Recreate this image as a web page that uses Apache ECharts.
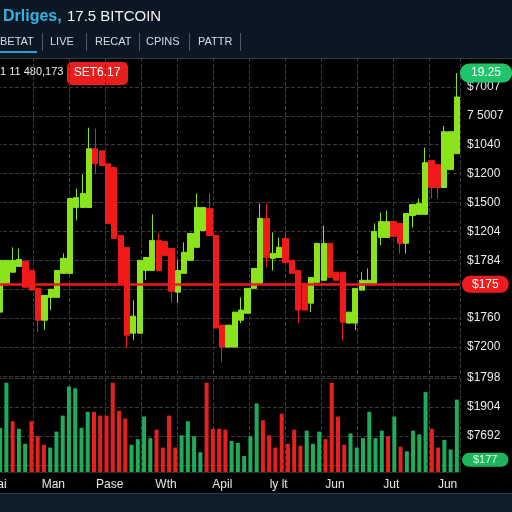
<!DOCTYPE html>
<html>
<head>
<meta charset="utf-8">
<script src="https://cdn.jsdelivr.net/npm/echarts@6/dist/echarts.min.js"></script>
<style>
  html, body { margin: 0; padding: 0; background: #000; }
  #chart { width: 512px; height: 512px; }
</style>
</head>
<body>
<div id="chart"></div>
<script>
// candles: [open, close, low, high]
var candles = [
  [221, 400, 221, 400], [321, 400, 321, 400], [359, 400, 359, 445], [379, 403, 379, 441],
  [397, 307, 307, 400], [365, 297, 297, 365], [303, 193, 152, 303], [193, 279, 159, 279],
  [272, 300, 228, 300], [272, 365, 272, 365], [355, 407, 355, 424], [355, 614, 355, 614],
  [583, 617, 538, 648], [583, 631, 583, 697], [583, 786, 583, 859], [786, 734, 700, 855],
  [779, 728, 728, 779], [734, 528, 528, 734], [721, 476, 476, 721], [486, 321, 321, 486],
  [445, 141, 97, 445], [148, 207, 124, 262], [148, 400, 148, 400], [365, 410, 331, 410],
  [365, 469, 365, 559], [469, 365, 365, 493], [465, 417, 417, 465], [441, 293, 255, 441],
  [290, 365, 252, 400], [355, 428, 355, 462], [400, 493, 400, 493], [445, 583, 445, 631],
  [503, 583, 503, 583], [579, 486, 486, 631], [486, 166, 166, 486], [176, 100, 48, 176],
  [100, 176, 100, 176], [100, 221, 100, 221], [193, 228, 183, 272], [217, 303, 217, 303],
  [303, 372, 303, 372], [321, 545, 321, 597], [545, 410, 376, 597], [407, 424, 365, 497],
  [410, 445, 410, 479], [476, 393, 393, 497], [400, 355, 355, 400], [365, 228, 183, 365],
  [321, 228, 228, 321], [252, 341, 221, 341], [324, 459, 324, 459], [331, 459, 331, 521],
  [459, 341, 341, 459], [359, 331, 331, 359], [359, 186, 124, 359], [183, 221, 183, 221],
  [183, 303, 159, 303], [297, 331, 297, 359], [321, 331, 321, 372], [321, 500, 321, 528],
  [479, 534, 452, 565], [479, 534, 479, 572], [534, 483, 483, 534], [528, 459, 424, 528],
  [459, 562, 424, 562], [555, 593, 514, 593], [559, 597, 559, 614], [559, 738, 559, 790],
  [745, 652, 614, 745], [731, 652, 614, 731], [652, 845, 652, 865], [714, 845, 714, 845],
  [769, 965, 769, 1048]
];

var volumes = [
  47,
  95, 54, 46, 30, 54, 38, 29, 26, 43, 60, 91, 89, 47, 64, 64, 60, 60, 95, 65, 57,
  29, 35, 59, 36, 45, 26, 60, 26, 39, 54, 38, 21, 95, 46, 46, 45, 33, 31, 17, 38,
  73, 55, 39, 26, 62, 30, 45, 28, 44, 30, 43, 35, 95, 59, 29, 41, 26, 36, 64, 36,
  44, 38, 59, 27, 22, 44, 40, 85, 46, 26, 34, 24, 77
];
// 1 = up (green), 0 = down (red)
var volumeUp = [
  1,
  1, 0, 1, 1, 0, 0, 0, 1, 1, 1, 1, 1, 1, 1, 0, 0, 0, 0, 0, 0,
  1, 1, 1, 1, 0, 0, 0, 0, 1, 1, 1, 1, 0, 0, 0, 0, 1, 1, 1, 1,
  1, 0, 0, 0, 0, 0, 0, 0, 1, 1, 1, 0, 0, 0, 0, 1, 1, 1, 1, 1,
  1, 0, 1, 0, 1, 1, 1, 1, 0, 0, 1, 1, 1
];

var priceTicks = ['', '$7200', '$1760', '', '$1784', '$1204', '$1500', '$1200', '$1040', '7 5007', '$7007', ''];
var volumeTicks = ['$1798', '$1904', '$7692', ''];
var monthLabels = ['Mai', 'Man', 'Pase', 'Wth', 'Apil', 'ly lt', 'Jun', 'Jut', 'Jun'];
var tabs = ['BETAT', 'LIVE', 'RECAT', 'CPINS', 'PATTR'];

var lastPrice = 317;     // red line
var topPrice = 1048;     // green badge
var volumeMark = 13;     // green volume badge

var GREEN = '#8ae31c';
var RED = '#f2191b';
var VGREEN = '#1fab5c';
var VRED = '#e6201f';
var GRIDLINE = '#3b3b3b';
var FONT = '"Liberation Sans", Arial';

var days = candles.map(function (c, i) { return i; });
var volDays = volumes.map(function (v, i) { return i; });

var chartDom = document.getElementById('chart');
var myChart = echarts.init(chartDom);

var tabX = [0, 50, 95, 146, 198];
var sepX = [42, 86, 139, 189, 240];
var headerItems = [
  { type: 'rect', shape: { x: 0, y: 0, width: 512, height: 59 }, style: { fill: '#0b1824' } },
  { type: 'rect', shape: { x: 0, y: 58, width: 512, height: 1 }, style: { fill: '#2b3b49' } },
  { type: 'rect', shape: { x: 0, y: 494, width: 512, height: 18 }, style: { fill: '#0e1d2a' } },
  { type: 'rect', shape: { x: 0, y: 493, width: 512, height: 1 }, style: { fill: '#27394a' } },
  { type: 'text', x: 3, y: 17, style: { text: 'Drliges,', fill: '#36b3e4', font: 'bold 16px ' + FONT, verticalAlign: 'middle' } },
  { type: 'text', x: 67, y: 17, style: { text: '17.5 BITCOIN', fill: '#f2f2f2', font: '15px ' + FONT, verticalAlign: 'middle' } },
  { type: 'rect', shape: { x: 0, y: 51, width: 37, height: 2 }, style: { fill: '#2a9fd6' } },
  { type: 'text', x: 0, y: 72, style: { text: '1 11 480,173', fill: '#ececec', font: '11px ' + FONT, verticalAlign: 'middle' } },
  { type: 'rect', shape: { x: 67, y: 62, width: 61, height: 23, r: 5 }, style: { fill: '#e81f1c' } },
  { type: 'text', x: 97, y: 73, style: { text: 'SET6.17', fill: '#fff', font: '12px ' + FONT, align: 'center', verticalAlign: 'middle' } }
];
tabs.forEach(function (t, i) {
  headerItems.push({ type: 'text', x: tabX[i], y: 42, style: { text: t, fill: '#d5dde5', font: '11px ' + FONT, verticalAlign: 'middle' } });
  headerItems.push({ type: 'rect', shape: { x: sepX[i], y: 33, width: 1, height: 18 }, style: { fill: '#4a5a68' } });
});

var option = {
  backgroundColor: '#000',
  animation: false,
  graphic: headerItems,
  grid: [
    { left: -3, right: 52, top: 58, height: 318, outerBoundsMode: 'none', containLabel: false },
    { left: -3, right: 52, top: 378, height: 94, outerBoundsMode: 'none', containLabel: false }
  ],
  xAxis: [
    { type: 'category', gridIndex: 0, data: days, boundaryGap: true, show: false },
    { type: 'category', gridIndex: 1, data: volDays, boundaryGap: true, position: 'bottom',
      axisLine: { show: true, lineStyle: { color: '#2a2a2a' } }, axisTick: { show: false }, axisLabel: { show: false } },
    // vertical dashed grid lines
    { type: 'value', gridIndex: 0, min: 0, max: 12.86, interval: 1,
      axisLine: { show: false }, axisTick: { show: false }, axisLabel: { show: false },
      splitLine: { show: true, lineStyle: { color: GRIDLINE, type: 'dashed', width: 1 } } },
    { type: 'value', gridIndex: 1, min: 0, max: 12.86, interval: 1,
      axisLine: { show: false }, axisTick: { show: false }, axisLabel: { show: false },
      splitLine: { show: true, lineStyle: { color: GRIDLINE, type: 'dashed', width: 1 } } },
    // month labels
    { type: 'value', gridIndex: 1, min: 0, max: 8.22, interval: 1, position: 'bottom',
      axisLine: { show: false }, axisTick: { show: false }, splitLine: { show: false },
      axisLabel: { color: '#e6e6e6', fontSize: 12, margin: 7, fontFamily: FONT,
        showMinLabel: true, showMaxLabel: false,
        formatter: function (v) { return monthLabels[Math.round(v)] || ''; } } }
  ],
  yAxis: [
    { type: 'value', gridIndex: 0, position: 'right', min: 0, max: 1100, interval: 100,
      axisLine: { show: true, lineStyle: { color: '#333' } }, axisTick: { show: false },
      splitLine: { show: true, lineStyle: { color: GRIDLINE, type: 'dashed', width: 1 } },
      axisLabel: { color: '#ececec', fontSize: 12, margin: 7, fontFamily: FONT,
        formatter: function (v) { return priceTicks[Math.round(v / 100)] || ''; } } },
    { type: 'value', gridIndex: 1, min: 0, max: 100, show: false, splitLine: { show: false } },
    { type: 'value', gridIndex: 1, position: 'right', inverse: true, min: 0, max: 94, interval: 29,
      axisLine: { show: true, lineStyle: { color: '#333' } }, axisTick: { show: false },
      splitLine: { show: true, lineStyle: { color: GRIDLINE, type: 'dashed', width: 1 } },
      axisLabel: { color: '#ececec', fontSize: 12, margin: 7, fontFamily: FONT,
        formatter: function (v) { return volumeTicks[Math.round(v / 29)] || ''; } } }
  ],
  series: [
    {
      name: 'BTC',
      type: 'candlestick',
      xAxisIndex: 0,
      yAxisIndex: 0,
      barWidth: '90%',
      data: candles,
      itemStyle: { color: GREEN, color0: RED, borderColor: GREEN, borderColor0: RED, borderWidth: 1 },
      markLine: {
        symbol: ['none', 'none'],
        silent: true,
        data: [
          { yAxis: lastPrice, lineStyle: { color: '#f01a1a', width: 2.5, type: 'solid' },
            label: { position: 'end', formatter: '$175', color: '#fff', fontSize: 12, distance: 2,
              backgroundColor: '#ee1c1c', padding: [3, 10, 2, 10], borderRadius: 8 } },
          { yAxis: topPrice, lineStyle: { color: 'rgba(0,0,0,0)' },
            label: { position: 'end', formatter: '19.25', color: '#fff', fontSize: 12, distance: 0,
              backgroundColor: '#1fc46a', padding: [4, 11, 3, 11], borderRadius: 9 } }
        ]
      }
    },
    {
      name: 'Volume',
      type: 'bar',
      xAxisIndex: 1,
      yAxisIndex: 1,
      barWidth: 4,
      data: volumes.map(function (v, i) {
        return { value: v, itemStyle: { color: volumeUp[i] ? VGREEN : VRED } };
      }),
      markLine: {
        symbol: ['none', 'none'],
        silent: true,
        data: [
          { yAxis: volumeMark, lineStyle: { color: 'rgba(0,0,0,0)' },
            label: { position: 'end', formatter: '$177', color: '#d8ffe0', fontSize: 11, distance: 2,
              backgroundColor: '#1fb55e', padding: [2, 11, 1, 11], borderRadius: 7 } }
        ]
      }
    }
  ]
};

option && myChart.setOption(option);
</script>
</body>
</html>
